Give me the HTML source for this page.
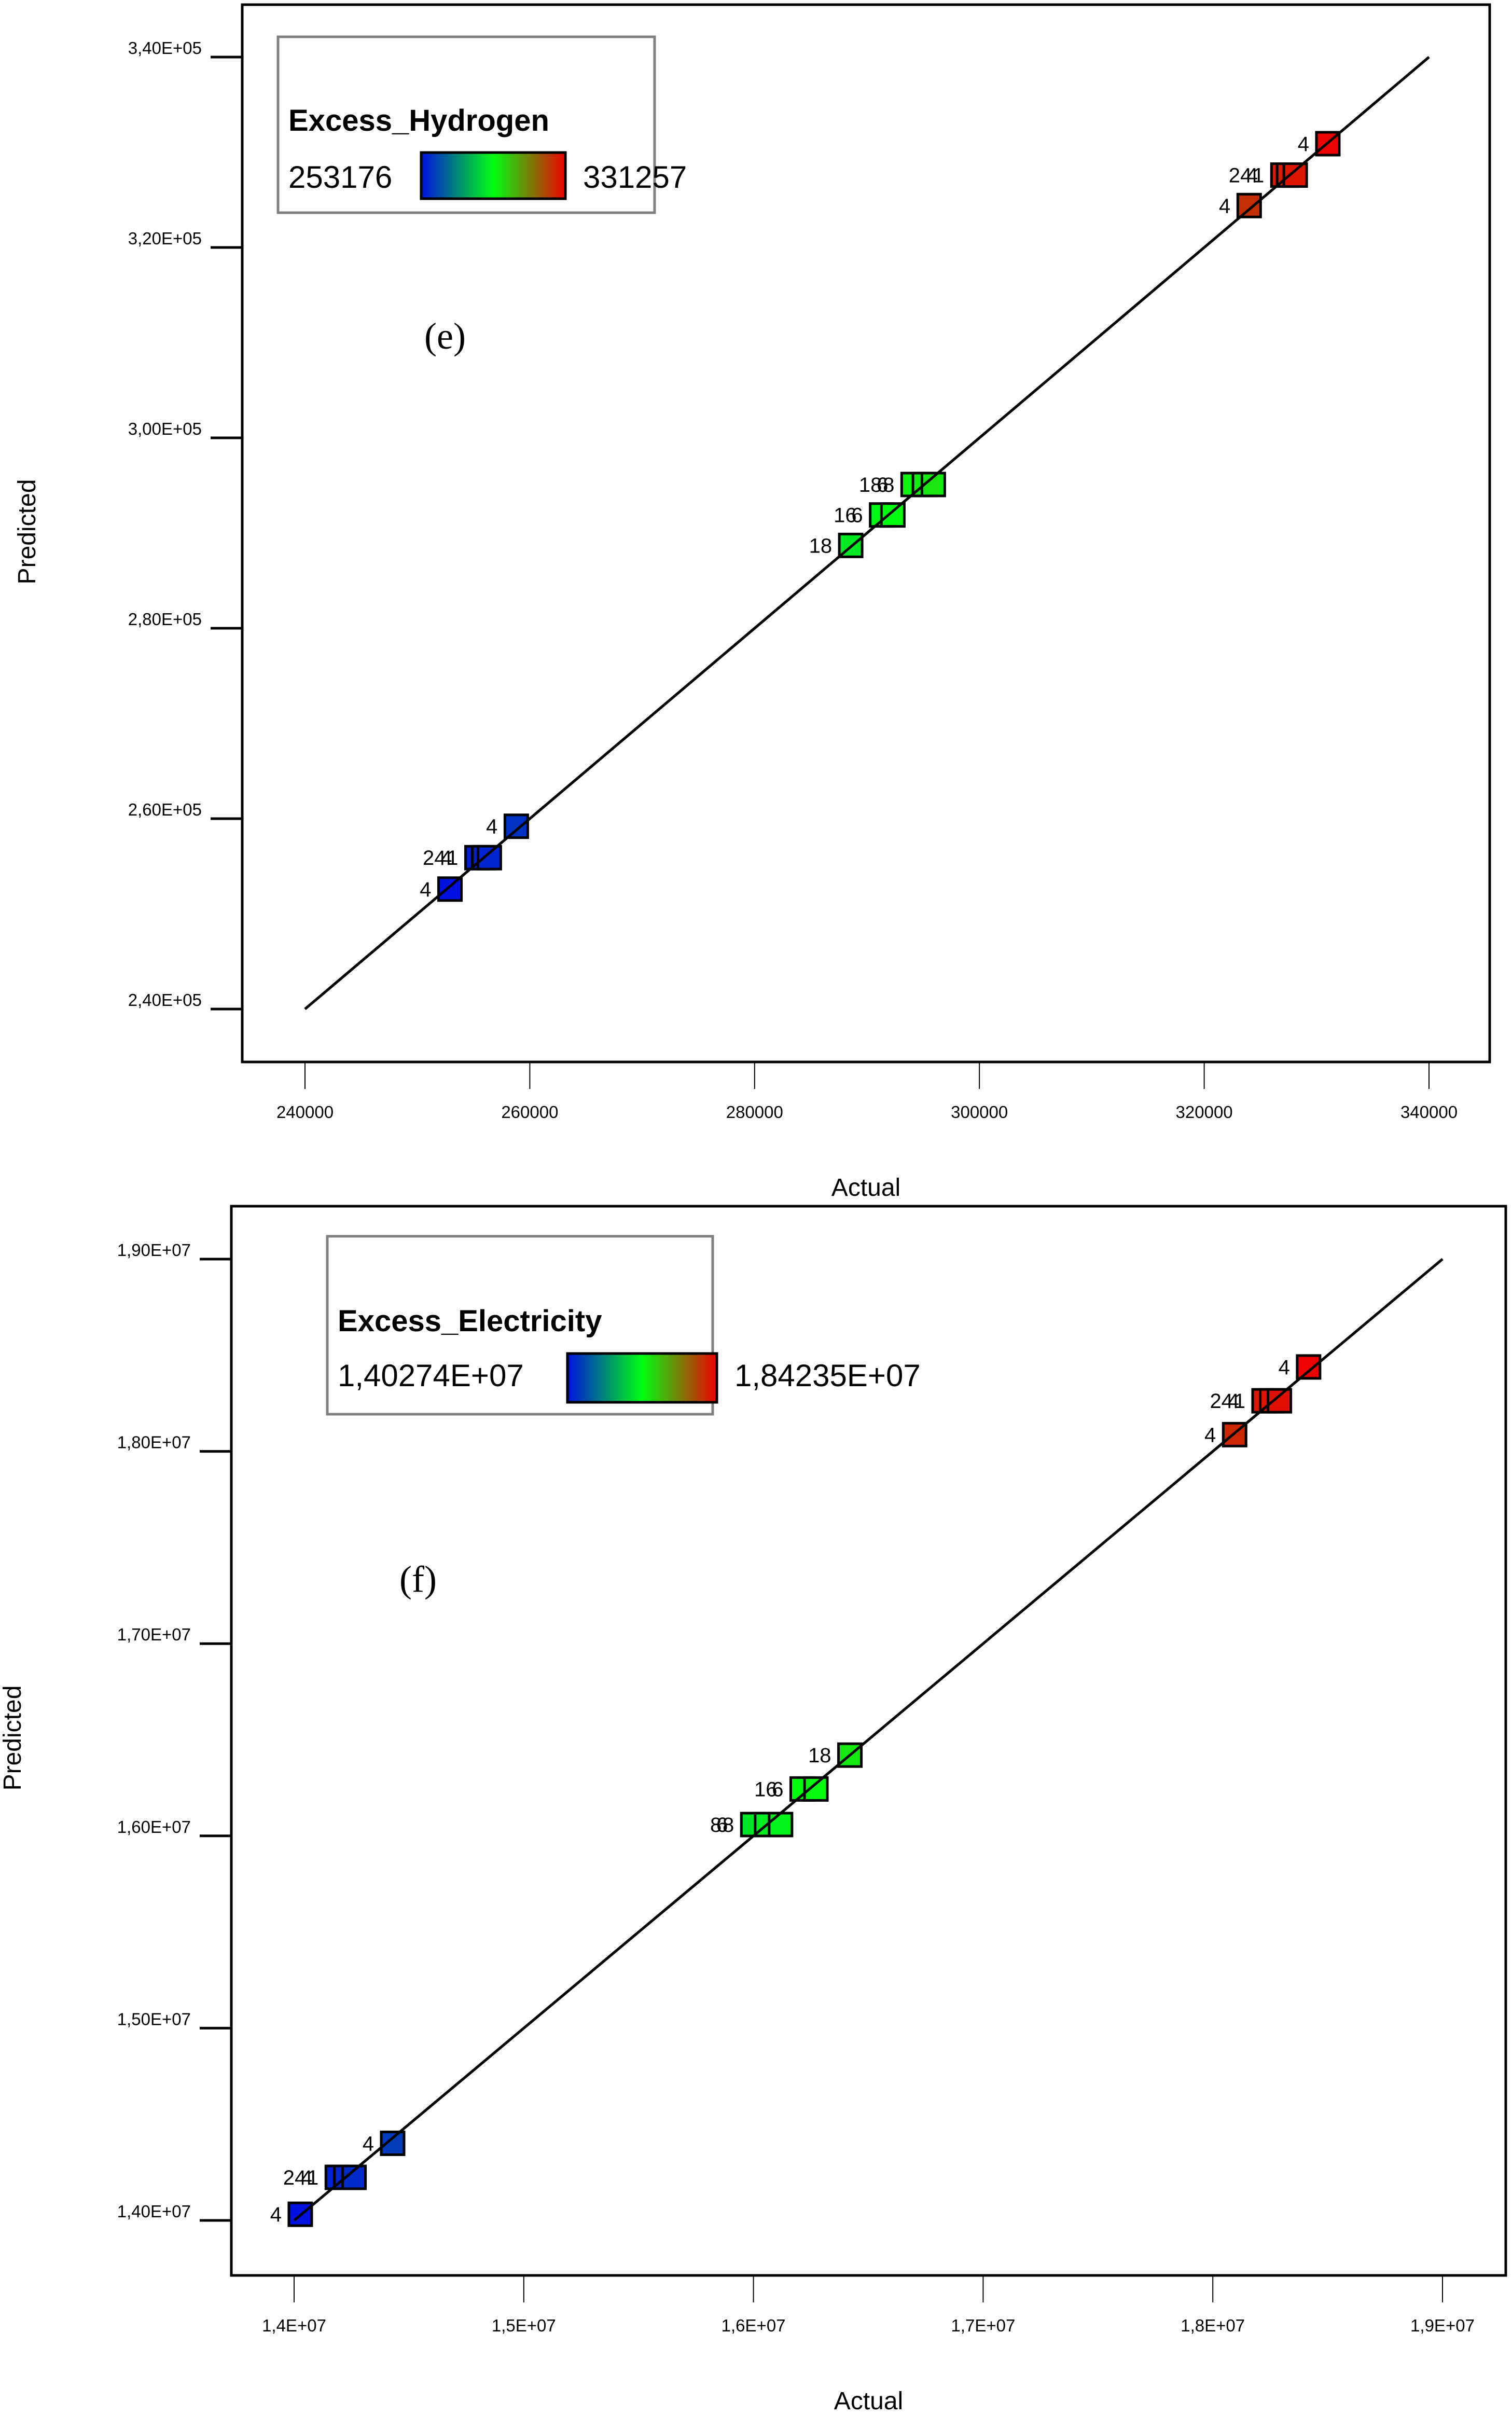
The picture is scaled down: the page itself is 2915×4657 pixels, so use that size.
<!DOCTYPE html>
<html><head><meta charset="utf-8"><style>
html,body{margin:0;padding:0;background:#fff;}
svg{display:block;font-family:"Liberation Sans","DejaVu Sans",sans-serif;}
</style></head><body>
<svg id="chart" xmlns="http://www.w3.org/2000/svg" width="2915" height="4657" viewBox="0 0 2915 4657">
<defs>
<linearGradient id="cg" x1="0" x2="1" y1="0" y2="0">
<stop offset="0" stop-color="#0010e0"/><stop offset="0.5" stop-color="#00ff10"/><stop offset="1" stop-color="#f00000"/>
</linearGradient>
</defs>
<g id="plotE"></g>
<g id="plotF"></g>
</svg>
<script>
// ---- Plot (e) data ----
const eTicksX = [240000, 260000, 280000, 300000, 320000, 340000];
const eTickLabelsX = ["240000","260000","280000","300000","320000","340000"];
const eTicksY = [240000, 260000, 280000, 300000, 320000, 340000];
const eTickLabelsY = ["2,40E+05","2,60E+05","2,80E+05","3,00E+05","3,20E+05","3,40E+05"];
const eActual =    [331000, 327000, 327500, 328100, 324000, 294100, 295100, 295900, 291300, 292300, 288550, 258800, 255300, 255900, 256400, 252900];
const ePredicted = [330900, 327600, 327600, 327600, 324400, 295100, 295100, 295100, 291900, 291900, 288700, 259200, 255900, 255900, 255900, 252600];
const eLabels =    ["4", "24", "4", "1", "4", "18", "6", "8", "16", "6", "18", "4", "24", "4", "1", "4"];
const eColorMin = 253176, eColorMax = 331257;

// ---- Plot (f) data ----
const fTicksX = [14000000, 15000000, 16000000, 17000000, 18000000, 19000000];
const fTickLabelsX = ["1,4E+07","1,5E+07","1,6E+07","1,7E+07","1,8E+07","1,9E+07"];
const fTicksY = [14000000, 15000000, 16000000, 17000000, 18000000, 19000000];
const fTickLabelsY = ["1,40E+07","1,50E+07","1,60E+07","1,70E+07","1,80E+07","1,90E+07"];
const fActual =    [18417000, 18223000, 18256000, 18290000, 18095000, 16420000, 16212000, 16272000, 15997000, 16057000, 16118000, 14429000, 14188000, 14225000, 14261000, 14027000];
const fPredicted = [18439000, 18263000, 18263000, 18263000, 18087000, 16420000, 16244000, 16244000, 16059000, 16059000, 16059000, 14401000, 14224000, 14224000, 14224000, 14032000];
const fLabels =    ["4", "24", "4", "1", "4", "18", "16", "6", "8", "6", "8", "4", "24", "4", "1", "4"];
const fColorMin = 14027400, fColorMax = 18423500;

const NS = "http://www.w3.org/2000/svg";
function mk(parent, tag, attrs, text){
  const el = document.createElementNS(NS, tag);
  for (const k in attrs) el.setAttribute(k, attrs[k]);
  if (text !== undefined) el.textContent = text;
  parent.appendChild(el);
  return el;
}
function colorFor(t){
  t = Math.max(0, Math.min(1, t));
  const a = t < 0.5 ? [0,16,224] : [0,255,16];
  const b = t < 0.5 ? [0,255,16] : [240,0,0];
  const u = t < 0.5 ? t*2 : (t-0.5)*2;
  const c = a.map((v,i)=>Math.round(v+(b[i]-v)*u));
  return "rgb("+c.join(",")+")";
}

function drawPlot(g, cfg){
  const sx = v => cfg.x0 + (v - cfg.xd0) / (cfg.xd1 - cfg.xd0) * (cfg.x1 - cfg.x0);
  const sy = v => cfg.y0 + (v - cfg.yd0) / (cfg.yd1 - cfg.yd0) * (cfg.y1 - cfg.y0);
  const frame = mk(g, "rect", {x:cfg.L, y:cfg.T, width:cfg.R-cfg.L, height:cfg.B-cfg.T, fill:"none", stroke:"#000", "stroke-width":5});
  
  
  cfg.ticksY.forEach((v,i)=>{
    const y = sy(v);
    const t = mk(g, "line", {x1:cfg.L-61, x2:cfg.L, y1:y, y2:y, stroke:"#000", "stroke-width":5});
    
    
    const lb = mk(g, "text", {x:cfg.L-78, y:y-6, "font-size":33, "text-anchor":"end"}, cfg.tickLabelsY[i]);
    
    
  });
  cfg.ticksX.forEach((v,i)=>{
    const x = sx(v);
    const t = mk(g, "line", {x1:x, x2:x, y1:cfg.B, y2:cfg.B+52, stroke:"#000", "stroke-width":2});
    
    
    const lb = mk(g, "text", {x:x, y:cfg.B+108, "font-size":33, "text-anchor":"middle"}, cfg.tickLabelsX[i]);
    
    
  });
  const xt = mk(g, "text", {x:(cfg.L+cfg.R)/2, y:cfg.B+258, "font-size":48, "text-anchor":"middle"}, "Actual");
  
  
  const yt = mk(g, "text", {x:0, y:0, "font-size":48, "text-anchor":"middle", transform:"translate("+cfg.ytx+","+cfg.yty+") rotate(-90)"}, "Predicted");
  
  
  const d = mk(g, "line", {x1:sx(cfg.xd0), y1:sy(cfg.yd0), x2:sx(cfg.xd1), y2:sy(cfg.yd1), stroke:"#000", "stroke-width":5});
  
  
  const S = 44;
  cfg.actual.forEach((a,i)=>{
    const p = cfg.pred[i];
    const cx = sx(a), cy = sy(p);
    const c = colorFor((a - cfg.cmin)/(cfg.cmax - cfg.cmin));
    const r = mk(g, "rect", {x:cx-S/2, y:cy-S/2, width:S, height:S, fill:c, stroke:"#000", "stroke-width":5});
    
    
  });
  // labels: placed left of the leftmost square in the same row
  cfg.actual.forEach((a,i)=>{
    const p = cfg.pred[i];
    let minA = a, k = 0, n = 0;
    cfg.actual.forEach((b,j)=>{ if (cfg.pred[j] === p) { if (b < minA) minA = b; if (j < i) k++; n++; } });
    const lx = sx(minA) - S/2 - 14 - (n - 1 - k) * 12;
    const lb = mk(g, "text", {x:lx, y:sy(p)+14, "font-size":40, "text-anchor":"end"}, cfg.labels[i]);
    
    
  });
  const d2 = mk(g, "line", {x1:sx(cfg.xd0), y1:sy(cfg.yd0), x2:sx(cfg.xd1), y2:sy(cfg.yd1), stroke:"#000", "stroke-width":5});
  
  
  const lg = cfg.legend;
  const box = mk(g, "rect", {x:lg.x, y:lg.y, width:lg.w, height:lg.h, fill:"#fff", stroke:"#808080", "stroke-width":5});
  
  
  const tt = mk(g, "text", {x:lg.x+20, y:lg.titleY, "font-size":58, "font-weight":"bold"}, lg.title);
  
  
  const lo = mk(g, "text", {x:lg.x+20, y:lg.valY, "font-size":60}, lg.minLabel);
  
  
  const bar = mk(g, "rect", {x:lg.bx, y:lg.by, width:lg.bw, height:lg.bh, fill:"url(#cg)", stroke:"#000", "stroke-width":5});
  
  
  const hi = mk(g, "text", {x:lg.bx+lg.bw+34, y:lg.valY, "font-size":60}, lg.maxLabel);
  
  
  const pl = mk(g, "text", {x:cfg.panelX, y:cfg.panelY, "font-size":72, "font-family":"Liberation Serif, serif", "text-anchor":"middle"}, cfg.panel);
  
  
}

drawPlot(document.getElementById("plotE"), {
  L:467, R:2872, T:9, B:2047,
  x0:588, x1:2755, xd0:240000, xd1:340000,
  y0:1945, y1:110, yd0:240000, yd1:340000,
  ticksX:eTicksX, tickLabelsX:eTickLabelsX, ticksY:eTicksY, tickLabelsY:eTickLabelsY,
  actual:eActual, pred:ePredicted, labels:eLabels, cmin:eColorMin, cmax:eColorMax,
  ytx:68, yty:1025, panel:"(e)", panelX:858, panelY:672,
  legend:{x:536, y:71, w:726, h:339, title:"Excess_Hydrogen", titleY:252, minLabel:"253176", maxLabel:"331257", valY:362, bx:812, by:294, bw:278, bh:89}
});
drawPlot(document.getElementById("plotF"), {
  L:446, R:2903, T:2325, B:4386,
  x0:567, x1:2781, xd0:14000000, xd1:19000000,
  y0:4280, y1:2427, yd0:14000000, yd1:19000000,
  ticksX:fTicksX, tickLabelsX:fTickLabelsX, ticksY:fTicksY, tickLabelsY:fTickLabelsY,
  actual:fActual, pred:fPredicted, labels:fLabels, cmin:fColorMin, cmax:fColorMax,
  ytx:40, yty:3350, panel:"(f)", panelX:806, panelY:3068,
  legend:{x:631, y:2383, w:743, h:343, title:"Excess_Electricity", titleY:2566, minLabel:"1,40274E+07", maxLabel:"1,84235E+07", valY:2672, bx:1094, by:2609, bw:288, bh:94}
});
</script>
</body></html>
